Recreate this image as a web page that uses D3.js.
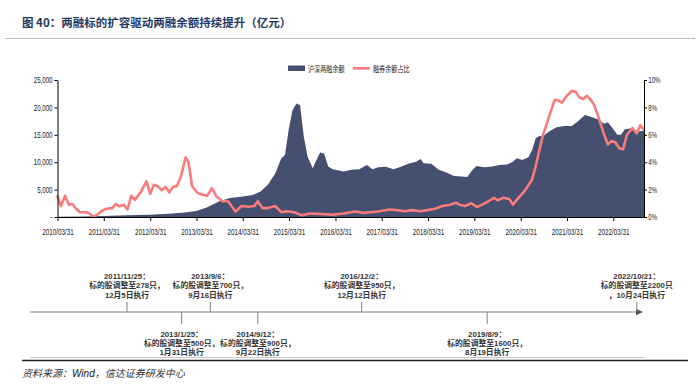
<!DOCTYPE html>
<html><head><meta charset="utf-8">
<script src="https://cdn.jsdelivr.net/npm/d3@7"></script>
<style>body{margin:0;background:#fff} svg{display:block}</style>
</head><body><svg id="c" width="700" height="385"></svg>
<script>
// ---------- data ----------
const seriesNames = ["沪深两融余额", "融券余额占比"];
const balanceDates = ["2010-03-31","2010-10-01","2011-03-31","2011-10-01","2012-03-31","2012-08-29","2012-12-28","2013-03-31","2013-06-24","2013-09-24","2013-12-20","2014-03-31","2014-06-17","2014-08-18","2014-10-15","2014-12-13","2015-01-29","2015-02-27","2015-03-28","2015-04-27","2015-05-28","2015-06-26","2015-07-25","2015-08-24","2015-10-04","2015-11-02","2015-12-01","2016-01-01","2016-02-03","2016-03-08","2016-06-05","2016-08-04","2016-10-05","2016-12-03","2017-01-18","2017-03-03","2017-05-01","2017-07-01","2017-08-29","2017-10-27","2017-12-27","2018-02-01","2018-02-23","2018-04-25","2018-06-24","2018-08-22","2018-10-22","2018-12-20","2019-02-03","2019-03-20","2019-04-19","2019-06-18","2019-08-17","2019-10-16","2019-12-14","2020-01-29","2020-02-28","2020-04-12","2020-05-31","2020-06-28","2020-07-28","2020-08-26","2020-09-25","2020-11-09","2021-01-08","2021-03-08","2021-05-07","2021-06-21","2021-08-20","2021-10-04","2021-12-03","2022-01-17","2022-02-16","2022-04-01","2022-05-01","2022-05-29","2022-07-01","2022-08-29","2022-10-12","2022-11-28"];
const balanceValues = [50,100,200,300,400,600,800,1100,1800,2850,3450,3750,4000,4650,5900,8000,10700,11300,15900,19500,20700,20400,14700,11000,8900,10400,11750,11600,9200,8700,8300,8600,8700,9500,8700,9100,9150,8700,9150,9700,10100,10600,9800,9700,8600,8100,7500,7400,7300,8700,9300,9100,9200,9500,9600,10100,10700,10400,10900,12200,14400,14800,14800,15600,16400,16600,16600,17400,18600,18300,17800,17000,17300,16000,15000,15000,16000,16200,15600,15750];
const ratioDates = ["2010-03-31","2010-04-27","2010-05-30","2010-06-28","2010-07-27","2010-08-25","2010-09-23","2010-11-10","2010-12-09","2011-01-07","2011-02-06","2011-03-25","2011-04-23","2011-06-06","2011-07-05","2011-08-03","2011-09-05","2011-10-04","2011-11-03","2011-12-02","2012-01-18","2012-03-02","2012-03-31","2012-04-29","2012-05-29","2012-07-01","2012-07-30","2012-08-29","2012-09-27","2012-10-26","2012-11-28","2013-01-04","2013-01-26","2013-02-24","2013-04-09","2013-05-26","2013-06-24","2013-07-31","2013-09-05","2013-10-23","2013-12-05","2014-02-02","2014-03-21","2014-05-19","2014-07-01","2014-07-27","2014-09-02","2014-10-15","2014-12-13","2015-01-29","2015-03-14","2015-05-11","2015-07-12","2015-09-09","2015-12-09","2016-03-06","2016-06-05","2016-09-04","2016-11-02","2017-01-01","2017-03-03","2017-05-30","2017-07-31","2017-09-27","2017-11-28","2018-01-26","2018-03-25","2018-05-26","2018-07-23","2018-09-23","2018-11-06","2018-12-05","2019-01-18","2019-03-07","2019-04-20","2019-06-02","2019-07-20","2019-09-02","2019-10-01","2019-11-14","2020-01-01","2020-01-29","2020-03-13","2020-04-26","2020-06-27","2020-07-27","2020-08-25","2020-09-23","2020-11-10","2020-12-24","2021-01-22","2021-02-20","2021-03-25","2021-05-08","2021-06-06","2021-07-05","2021-08-03","2021-09-05","2021-10-04","2021-10-30","2021-12-02","2022-01-18","2022-02-16","2022-03-18","2022-04-16","2022-05-19","2022-06-17","2022-07-16","2022-08-29","2022-10-01","2022-10-30","2022-11-28"];
const ratioValues = [1.5,0.8,1.55,0.9,0.95,0.6,0.35,0.35,0.25,0.0,0.17,0.5,0.6,0.65,0.95,0.78,0.9,0.55,1.55,1.25,1.85,2.6,1.7,2.35,2.25,1.95,2.2,1.8,2.2,2.25,2.95,4.35,4.05,2.25,1.75,1.6,1.55,2.1,1.5,1.15,1.15,0.4,0.8,0.75,0.8,1.15,0.65,0.65,0.8,0.35,0.42,0.35,0.12,0.25,0.22,0.17,0.25,0.4,0.3,0.35,0.4,0.55,0.5,0.42,0.5,0.42,0.5,0.6,0.8,0.9,1.05,0.9,0.8,1.0,0.73,0.9,1.15,1.4,1.22,1.4,1.32,0.9,1.4,1.85,2.7,3.7,4.9,6.0,7.35,8.55,8.5,8.35,8.8,9.2,9.15,8.75,8.6,8.85,8.55,8.2,7.35,6.0,5.3,5.55,5.45,5.0,4.95,6.0,6.5,6.1,6.7,6.35];
const xTickLabels = ["2010/03/31","2011/03/31","2012/03/31","2013/03/31","2014/03/31","2015/03/31","2016/03/31","2017/03/31","2018/03/31","2019/03/31","2020/03/31","2021/03/31","2022/03/31"];
const leftTicks = [0,5000,10000,15000,20000,25000];
const rightTicks = [0,2,4,6,8,10];
const eventDates = ["2011-11-25","2013-01-25","2013-09-06","2014-09-12","2016-12-02","2019-08-09","2022-10-21"];
const eventLines = [
  ["2011/11/25：","标的股调整至278只，","12月5日执行"],
  ["2013/1/25：","标的股调整至500只，","1月31日执行"],
  ["2013/9/6：","标的股调整至700只，","9月16日执行"],
  ["2014/9/12：","标的股调整至900只，","9月22日执行"],
  ["2016/12/2：","标的股调整至950只，","12月12日执行"],
  ["2019/8/9：","标的股调整至1600只，","8月19日执行"],
  ["2022/10/21：","标的股调整至2200只","，10月24日执行"]
];
const titleText = "图 40：两融标的扩容驱动两融余额持续提升（亿元）";
const sourceLead = "资料来源：", sourceWind = "Wind", sourceTail = "，信达证券研发中心";

// ---------- drawing ----------
const svg = d3.select("#c");
const parse = d3.timeParse("%Y-%m-%d");
const parseTick = d3.timeParse("%Y/%m/%d");
const CJK = "'Noto Sans CJK SC','Noto Sans',sans-serif";
const NUM = "'Liberation Sans',Arial,sans-serif";
const MIX = "'Liberation Sans','Noto Sans CJK SC',sans-serif";
const navy = "#454f6f", pink = "#f97b7b";

const X0 = 57.5, X1 = 644, Y0 = 217, Y1 = 80;
const x = d3.scaleTime().domain([parse("2010-03-31"), parse("2022-11-28")]).range([X0, X1]);
const yL = d3.scaleLinear().domain([0, 25000]).range([Y0, Y1]);
const yR = d3.scaleLinear().domain([0, 10]).range([Y0, Y1]);

// title
svg.append("text").attr("x", 22).attr("y", 27).attr("font-family", CJK).attr("font-weight", "bold")
  .attr("font-size", 11.5).attr("fill", "#1f3864").text(titleText);
svg.append("line").attr("x1", 5).attr("x2", 695).attr("y1", 38.5).attr("y2", 38.5)
  .attr("stroke", "#bbbbbb").attr("stroke-width", 1.2);

// area
const bal = balanceDates.map((d, i) => ({ d: parse(d), v: balanceValues[i] }));
svg.append("path").datum(bal).attr("fill", navy)
  .attr("d", d3.area().x(p => x(p.d)).y0(yL(0)).y1(p => yL(p.v)));

// line
const rat = ratioDates.map((d, i) => ({ d: parse(d), v: ratioValues[i] }));
svg.append("path").datum(rat).attr("fill", "none").attr("stroke", pink).attr("stroke-width", 2.6)
  .attr("stroke-linejoin", "round").attr("stroke-linecap", "round")
  .attr("d", d3.line().x(p => x(p.d)).y(p => yR(p.v)));

// axes
function styleAxis(g, sx) {
  g.select(".domain").attr("stroke", "#000");
  g.selectAll(".tick line").attr("stroke", "#000");
  g.selectAll("text").attr("font-family", NUM).attr("font-size", 8.5).attr("fill", "#222")
    .attr("transform", `scale(${sx},1)`);
}
const gL = svg.append("g").attr("transform", `translate(${X0},0)`)
  .call(d3.axisLeft(yL).tickValues(leftTicks).tickSize(3).tickSizeOuter(0).tickPadding(4)
    .tickFormat(d => d === 0 ? "-" : d3.format(",")(d)));
styleAxis(gL, 0.72);
const gR = svg.append("g").attr("transform", `translate(${X1},0)`)
  .call(d3.axisRight(yR).tickValues(rightTicks).tickSize(3).tickSizeOuter(0).tickPadding(3)
    .tickFormat(d => d + "%"));
styleAxis(gR, 0.72);
const gB = svg.append("g").attr("transform", `translate(0,${Y0})`)
  .call(d3.axisBottom(x).tickValues(xTickLabels.map(parseTick)).tickSize(4).tickSizeOuter(0).tickPadding(8)
    .tickFormat(d3.timeFormat("%Y/%m/%d")));
styleAxis(gB, 0.74);
gB.select(".domain").attr("d", `M${X0},0.5H${X1}`);

// legend
const lg = svg.append("g");
lg.append("rect").attr("x", 288).attr("y", 65.5).attr("width", 17).attr("height", 5.5).attr("fill", navy);
lg.append("line").attr("x1", 353).attr("x2", 370).attr("y1", 68.3).attr("y2", 68.3)
  .attr("stroke", pink).attr("stroke-width", 2.6);
[[308, seriesNames[0]], [373, seriesNames[1]]].forEach(([lx, t]) => {
  lg.append("text").attr("transform", `translate(${lx},71.5) scale(0.72,1)`)
    .attr("font-family", CJK).attr("font-size", 8.5).attr("fill", "#222").text(t);
});

// timeline
const TY = 312;
const tl = d3.scaleTime().domain([parse("2011-01-01"), parse("2023-01-01")]).range([85, 646]);
svg.append("line").attr("x1", 30).attr("x2", 636).attr("y1", TY).attr("y2", TY)
  .attr("stroke", "#808080").attr("stroke-width", 1);
svg.append("path").attr("d", `M636,${TY - 3.2}L643,${TY}L636,${TY + 3.2}Z`).attr("fill", "#555");
eventDates.forEach((ds, i) => {
  const ex = tl(parse(ds));
  const up = i % 2 === 0;
  svg.append("line").attr("x1", ex).attr("x2", ex).attr("y1", TY).attr("y2", up ? TY - 10 : TY + 12)
    .attr("stroke", "#808080");
  const base = up ? 279 : 336.5;
  const t = svg.append("text").attr("x", ex).attr("y", base).attr("text-anchor", "middle")
    .attr("font-family", MIX).attr("font-weight", "bold").attr("font-size", 7.8).attr("fill", "#333");
  eventLines[i].forEach((line, k) => {
    t.append("tspan").attr("x", ex).attr("dy", k === 0 ? 0 : 9.3).text(line);
  });
});

// bottom rules & source
svg.append("line").attr("x1", 30).attr("x2", 645).attr("y1", 357.5).attr("y2", 357.5)
  .attr("stroke", "#c8c8c8").attr("stroke-width", 1);
svg.append("line").attr("x1", 22).attr("x2", 688).attr("y1", 360.5).attr("y2", 360.5)
  .attr("stroke", "#222").attr("stroke-width", 1.6);
const src = svg.append("text").attr("x", 22).attr("y", 377).attr("font-size", 10).attr("fill", "#333");
src.append("tspan").attr("font-family", CJK).attr("font-style", "italic").text(sourceLead);
src.append("tspan").attr("font-family", NUM).attr("font-style", "italic").attr("fill", "#111").text(sourceWind);
src.append("tspan").attr("font-family", CJK).attr("font-style", "italic").text(sourceTail);
</script></body></html>
